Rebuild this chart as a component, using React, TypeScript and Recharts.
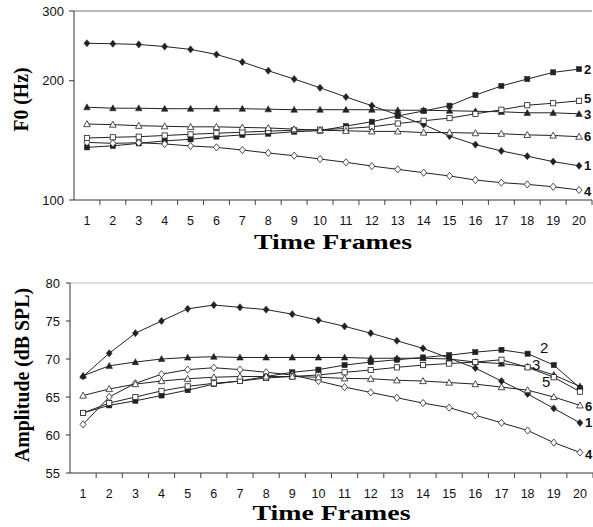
import { Line, LineChart, ReferenceLine, XAxis, YAxis } from "recharts";

// time frames 1..20
const frames = [1, 2, 3, 4, 5, 6, 7, 8, 9, 10, 11, 12, 13, 14, 15, 16, 17, 18, 19, 20];
const seriesNames = ["1", "2", "3", "4", "5", "6"];

// F0 (Hz), top panel
const f0S1 = [248.7, 248, 247, 244, 240, 233, 223, 212, 202, 192, 182, 173, 164, 155, 145, 138, 133, 129, 125, 122];
const f0S2 = [135.8, 137, 139, 141, 142.3, 144.5, 146, 147, 148.7, 149.6, 153.7, 157.6, 163, 167.8, 173, 184, 194, 202, 210, 214];
const f0S3 = [171.5, 170.5, 170.5, 170, 170, 170, 170, 169.5, 169, 169, 169, 169, 168.5, 168.5, 168, 167.5, 167, 166, 166, 165];
const f0S4 = [139.8, 139, 139.5, 138.5, 136.9, 135.8, 133.7, 131.4, 129.4, 126.9, 124.5, 121.8, 119.5, 117.2, 115, 112.3, 110.6, 109.5, 108, 106];
const f0S5 = [143.4, 144, 144.5, 145.5, 146.5, 147.4, 148.3, 149.2, 150, 150.5, 151.5, 153, 156, 158.5, 161, 165, 169, 173.5, 175.5, 178];
const f0S6 = [155.5, 155, 154, 153.5, 153, 153, 152.5, 152, 151, 150, 149.5, 149, 149, 148, 148, 147.5, 147, 146, 145.5, 144.5];
const f0Ticks = [100, 200, 300];

// Amplitude (dB SPL), bottom panel
const ampS1 = [67.7, 70.75, 73.4, 75.0, 76.6, 77.1, 76.8, 76.5, 75.9, 75.1, 74.3, 73.4, 72.4, 71.4, 70.1, 68.8, 67.1, 65.4, 63.5, 61.6];
const ampS2 = [62.9, 63.9, 64.5, 65.2, 65.9, 66.7, 67.1, 67.7, 68.25, 68.6, 69.2, 69.6, 69.9, 70.2, 70.5, 70.9, 71.2, 70.7, 69.2, 66.2];
const ampS3 = [67.8, 69.1, 69.6, 70.0, 70.2, 70.3, 70.2, 70.2, 70.2, 70.2, 70.2, 70.1, 70.1, 70.1, 70.0, 69.6, 69.4, 69.0, 67.9, 66.4];
const ampS4 = [61.4, 65.0, 66.8, 68.0, 68.6, 68.85, 68.6, 68.25, 67.9, 67.1, 66.3, 65.6, 64.9, 64.2, 63.6, 62.6, 61.6, 60.6, 59.0, 57.7];
const ampS5 = [62.9, 64.2, 65.0, 65.8, 66.4, 66.8, 67.1, 67.5, 67.7, 67.9, 68.25, 68.55, 68.9, 69.2, 69.4, 69.6, 69.9, 68.9, 67.6, 65.7];
const ampS6 = [65.2, 66.05, 66.7, 67.1, 67.4, 67.6, 67.7, 67.7, 67.7, 67.6, 67.45, 67.4, 67.2, 67.1, 66.9, 66.7, 66.3, 65.9, 65.0, 63.9];
const ampTicks = [55, 60, 65, 70, 75, 80];

const f0Data = frames.map((frame, i) => ({
	frame,
	s1: f0S1[i],
	s2: f0S2[i],
	s3: f0S3[i],
	s4: f0S4[i],
	s5: f0S5[i],
	s6: f0S6[i],
}));

const ampData = frames.map((frame, i) => ({
	frame,
	s1: ampS1[i],
	s2: ampS2[i],
	s3: ampS3[i],
	s4: ampS4[i],
	s5: ampS5[i],
	s6: ampS6[i],
}));

const SANS = "'Liberation Sans', Arial, sans-serif";
const SERIF = "'Liberation Serif', 'Times New Roman', serif";
const INK = "#222";
const TICK_SIZE = 5;
const TICK_MARGIN = 11;

const markers: { shape: string; filled: boolean }[] = [
	{ shape: "diamond", filled: true },
	{ shape: "square", filled: true },
	{ shape: "triangle", filled: true },
	{ shape: "diamond", filled: false },
	{ shape: "square", filled: false },
	{ shape: "triangle", filled: false },
];

function makeDot(shape: string, filled: boolean) {
	return (p: any) => {
		const { cx, cy, index } = p;
		if (cx == null || cy == null) return <g key={index} />;
		const fill = filled ? INK : "#fff";
		const common = { fill, stroke: INK, strokeWidth: filled ? 0.5 : 0.8 };
		if (shape === "diamond") {
			return (
				<polygon
					key={index}
					points={`${cx},${cy - 3.6} ${cx + 3},${cy} ${cx},${cy + 3.6} ${cx - 3},${cy}`}
					{...common}
				/>
			);
		}
		if (shape === "square") {
			return <rect key={index} x={cx - 2.6} y={cy - 2.6} width={5.2} height={5.2} {...common} />;
		}
		return (
			<polygon
				key={index}
				points={`${cx},${cy - 3.4} ${cx + 3.3},${cy + 2.6} ${cx - 3.3},${cy + 2.6}`}
				{...common}
			/>
		);
	};
}

function FrameTick(props: any) {
	const { x, y, payload, band } = props;
	const axisY = y - TICK_SIZE - TICK_MARGIN;
	return (
		<g>
			<line x1={x + band / 2} x2={x + band / 2} y1={axisY} y2={axisY + TICK_SIZE} stroke="#444" />
			<text x={x} y={y} dy="0.71em" textAnchor="middle" fontFamily={SANS} fontSize={12.5} fill="#111">
				{payload.value}
			</text>
		</g>
	);
}

function endLabel(name: string, dx: number, dy: number, bold: boolean) {
	return (p: any) => {
		const { x, y, index } = p;
		if (index !== frames.length - 1) return null;
		return (
			<text
				key={`lab-${name}`}
				x={x + dx}
				y={y + dy}
				dominantBaseline="central"
				fontFamily={SANS}
				fontSize={bold ? 13 : 15}
				fontWeight={bold ? "bold" : "normal"}
				fill="#111"
			>
				{name}
			</text>
		);
	};
}

function xTitle(dy: number) {
	return (p: any) => {
		const vb = p.viewBox;
		return (
			<text
				x={vb.x + vb.width / 2}
				y={vb.y + dy}
				textAnchor="middle"
				fontFamily={SERIF}
				fontWeight="bold"
				fontSize={21}
				textLength={158}
				lengthAdjust="spacingAndGlyphs"
				fill="#000"
			>
				Time Frames
			</text>
		);
	};
}

function yTitle(text: string, cx: number, shift: number, len: number) {
	return (p: any) => {
		const vb = p.viewBox;
		const cy = vb.y + vb.height / 2 + shift;
		return (
			<text
				x={cx}
				y={cy}
				transform={`rotate(-90 ${cx} ${cy})`}
				textAnchor="middle"
				dominantBaseline="central"
				fontFamily={SERIF}
				fontWeight="bold"
				fontSize={21}
				textLength={len}
				lengthAdjust="spacingAndGlyphs"
				fill="#000"
			>
				{text}
			</text>
		);
	};
}

const f0Offsets = [
	[5, 0],
	[5, 0],
	[5, 1],
	[5, 2],
	[5, -2],
	[5, 0],
];
const ampOffsets = [
	[5, 0],
	[-40, -40],
	[-48, -22],
	[5, 2],
	[-38, -10],
	[5, 1],
];
const ampBold = [true, false, false, true, false, true];

export default function App() {
	const topW = 593;
	const topLeft = 74;
	const topBand = (topW - 1 - topLeft) / frames.length;
	const botLeft = 70;
	const botBand = (topW - botLeft) / frames.length;

	return (
		<div style={{ position: "absolute", left: 0, top: 0, width: 593, height: 527, background: "#fff" }}>
			<div style={{ position: "absolute", left: 0, top: 0 }}>
				<LineChart width={593} height={262} data={f0Data} margin={{ top: 11, right: 1, bottom: 0, left: 0 }}>
					<XAxis
						dataKey="frame"
						type="number"
						domain={[0.5, 20.5]}
						ticks={frames}
						interval={0}
						height={62}
						tickLine={false}
						tickSize={TICK_SIZE}
						tickMargin={TICK_MARGIN}
						stroke="#333"
						tick={(p: any) => <FrameTick {...p} band={topBand} />}
						label={{ content: xTitle(49) }}
					/>
					<YAxis
						type="number"
						scale="log"
						domain={[100, 300]}
						ticks={f0Ticks}
						interval={0}
						width={topLeft}
						allowDataOverflow
						tickSize={5}
						tickMargin={5}
						stroke="#333"
						tick={{ fontFamily: SANS, fontSize: 13, fill: "#111" }}
						label={{ content: yTitle("F0 (Hz)", 21, -6, 64) }}
					/>
					<ReferenceLine y={300} stroke="#777" ifOverflow="visible" />
					{seriesNames.map((name, i) => (
						<Line
							key={name}
							dataKey={`s${i + 1}`}
							stroke={INK}
							strokeWidth={1}
							isAnimationActive={false}
							dot={makeDot(markers[i].shape, markers[i].filled)}
							label={endLabel(name, f0Offsets[i][0], f0Offsets[i][1], true)}
						/>
					))}
				</LineChart>
			</div>
			<div style={{ position: "absolute", left: 0, top: 262 }}>
				<LineChart width={593} height={265} data={ampData} margin={{ top: 21, right: 0, bottom: 0, left: 0 }}>
					<XAxis
						dataKey="frame"
						type="number"
						domain={[0.5, 20.5]}
						ticks={frames}
						interval={0}
						height={54}
						tickLine={false}
						tickSize={TICK_SIZE}
						tickMargin={TICK_MARGIN}
						stroke="#333"
						tick={(p: any) => <FrameTick {...p} band={botBand} />}
						label={{ content: xTitle(47) }}
					/>
					<YAxis
						type="number"
						domain={[55, 80]}
						ticks={ampTicks}
						interval={0}
						width={botLeft}
						tickSize={4}
						tickMargin={6}
						stroke="#333"
						tick={{ fontFamily: SANS, fontSize: 13, fill: "#111" }}
						label={{ content: yTitle("Amplitude (dB SPL)", 22, -3, 174) }}
					/>
					<ReferenceLine y={80} stroke="#bbb" ifOverflow="visible" />
					{seriesNames.map((name, i) => (
						<Line
							key={name}
							dataKey={`s${i + 1}`}
							stroke={INK}
							strokeWidth={1}
							isAnimationActive={false}
							dot={makeDot(markers[i].shape, markers[i].filled)}
							label={endLabel(name, ampOffsets[i][0], ampOffsets[i][1], ampBold[i])}
						/>
					))}
				</LineChart>
			</div>
		</div>
	);
}
